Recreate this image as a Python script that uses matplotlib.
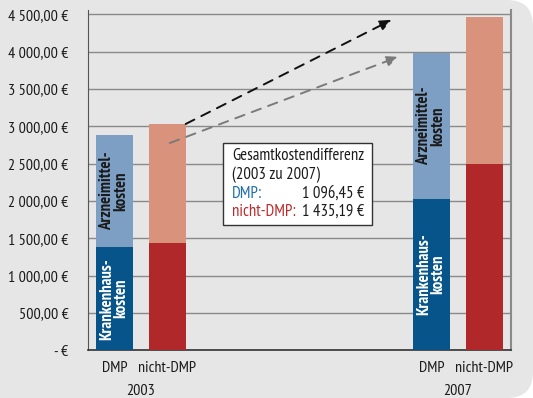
import matplotlib
matplotlib.use("Agg")
import matplotlib.pyplot as plt
from matplotlib.patches import FancyBboxPatch
from matplotlib.ticker import FuncFormatter
import matplotlib.transforms as mtransforms

# Kosten je Versicherten (Euro)
groups = ["DMP", "nicht-DMP", "DMP", "nicht-DMP"]
years = ["2003", "2007"]
krankenhaus = [1380.00, 1435.00, 2030.00, 2490.00]
arzneimittel = [1500.00, 1595.00, 1946.45, 1975.19]
diff_labels = ["DMP:", "nicht-DMP:"]
diff_values = ["1 096,45 €", "1 435,19 €"]
yticks = [0, 500, 1000, 1500, 2000, 2500, 3000, 3500, 4000, 4500]

positions = [0, 1, 6, 7]
dark_cols = ["#07548a", "#b0282a", "#07548a", "#b0282a"]
light_cols = ["#7d9fc4", "#d9927c", "#7d9fc4", "#d9927c"]

FONT = ["PT Sans Narrow", "DejaVu Sans"]
plt.rcParams["font.family"] = FONT
FS = 11.5
FS_BOX = 12
FS_BAR = 12

fig = plt.figure(figsize=(5.33, 3.98), dpi=100)
fig.patch.set_facecolor("white")
bg = FancyBboxPatch((-60, 0), 593, 398, boxstyle="round,pad=0,rounding_size=26",
                    transform=mtransforms.IdentityTransform(),
                    facecolor="#e6e6e6", edgecolor="none", zorder=-10)
fig.patches.append(bg)

ax = fig.add_axes([0.165, 0.12, 0.793, 0.855])
ax.set_facecolor("none")

totals = [k + a for k, a in zip(krankenhaus, arzneimittel)]
ax.bar(positions, krankenhaus, width=0.7, color=dark_cols, zorder=3)
ax.bar(positions, arzneimittel, bottom=krankenhaus, width=0.7, color=light_cols, zorder=3)

ax.set_xlim(-0.5, 7.5)
ax.set_ylim(0, 4557)
ax.set_yticks(yticks)
ax.yaxis.set_major_formatter(FuncFormatter(
    lambda v, p: "- €" if v == 0 else f"{v:,.2f}".replace(",", " ").replace(".", ",") + " €"))
ax.tick_params(axis="y", length=0, pad=14, labelsize=FS, colors="#1a1a1a")
ax.grid(axis="y", color="#8a8a8a", linewidth=1, zorder=0)
ax.set_axisbelow(True)

ax.set_xticks(positions)
ax.set_xticklabels(groups)
ax.tick_params(axis="x", length=0, pad=8, labelsize=FS, colors="#1a1a1a")
for i, yr in enumerate(years):
    xc = (positions[2 * i] + positions[2 * i + 1]) / 2
    ax.text(xc, -0.1, yr, transform=ax.get_xaxis_transform(), ha="center", va="top",
            fontsize=FS, color="#1a1a1a")

ax.spines["top"].set_visible(False)
ax.spines["left"].set_color("#555555")
ax.spines["bottom"].set_color("#333333")
ax.spines["right"].set_color("#8a8a8a")
ax.spines["bottom"].set_linewidth(1.2)
ax.spines["right"].set_linewidth(1.5)

# Segmentbeschriftungen in den DMP-Säulen
for idx in (0, 2):
    x = positions[idx]
    ax.text(x, krankenhaus[idx] / 2, "Krankenhaus-\nkosten", rotation=90, ha="center",
            va="center", color="white", fontsize=FS_BAR, fontweight="bold",
            linespacing=0.85, zorder=4)
    ax.text(x, krankenhaus[idx] + arzneimittel[idx] / 2, "Arzneimittel-\nkosten",
            rotation=90, ha="center", va="center", color="#1a1a1a", fontsize=FS_BAR,
            fontweight="bold", linespacing=0.85, zorder=4)

# Pfeile zur Kostenentwicklung
ax.annotate("", xy=(5.25, 4425), xytext=(1.35, totals[1]),
            arrowprops=dict(arrowstyle="-|>,head_length=0.7,head_width=0.3", color="#111111",
                            lw=1.4, linestyle=(0, (5, 4)), shrinkA=0, shrinkB=0), zorder=5)
ax.annotate("", xy=(5.38, 3930), xytext=(1.05, 2775),
            arrowprops=dict(arrowstyle="-|>,head_length=0.7,head_width=0.3", color="#7a7a7a",
                            lw=1.4, linestyle=(0, (5, 4)), shrinkA=0, shrinkB=0), zorder=5)

# Textkasten Gesamtkostendifferenz
bx0, bx1, by0, by1 = 223, 372, 143, 225
box = plt.Rectangle((bx0 / 533, 1 - by1 / 398), (bx1 - bx0) / 533, (by1 - by0) / 398,
                    transform=fig.transFigure, facecolor="white", edgecolor="#333333",
                    linewidth=1, zorder=6)
fig.patches.append(box)
tx = 232 / 533
fig.text(tx, 1 - 156.5 / 398, "Gesamtkostendifferenz", fontsize=FS_BOX, va="center",
         color="#1a1a1a", zorder=7)
fig.text(tx, 1 - 175 / 398, "(2003 zu 2007)", fontsize=FS_BOX, va="center", color="#1a1a1a",
         zorder=7)
txt_cols = ["#1f6ea8", "#c0292b"]
for j, (lab, val) in enumerate(zip(diff_labels, diff_values)):
    yy = 1 - (193.5 + 18.3 * j) / 398
    fig.text(tx, yy, lab, fontsize=FS_BOX, va="center", color=txt_cols[j], zorder=7)
    fig.text(364 / 533, yy, val, fontsize=FS_BOX, va="center", ha="right", color="#1a1a1a",
             zorder=7)

fig.savefig("out.png", dpi=100, facecolor=fig.get_facecolor())
